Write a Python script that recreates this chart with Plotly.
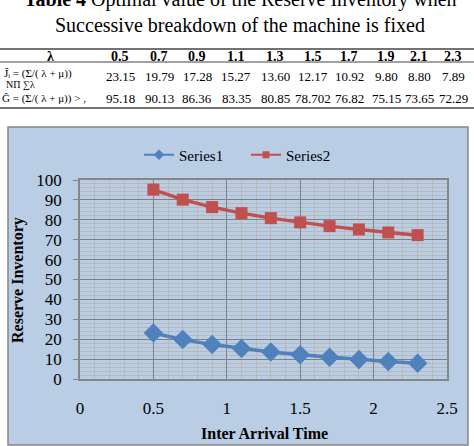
import plotly.graph_objects as go

# ---------------- data ----------------
inter_arrival = [0.5, 0.7, 0.9, 1.1, 1.3, 1.5, 1.7, 1.9, 2.1, 2.3]
series1_text = ["23.15", "19.79", "17.28", "15.27", "13.60", "12.17", "10.92", "9.80", "8.80", "7.89"]
series2_text = ["95.18", "90.13", "86.36", "83.35", "80.85", "78.702", "76.82", "75.15", "73.65", "72.29"]
series1 = [float(v) for v in series1_text]
series2 = [float(v) for v in series2_text]
header_text = ["0.5", "0.7", "0.9", "1.1", "1.3", "1.5", "1.7", "1.9", "2.1", "2.3"]
row_label_1a = "J\u0302\u1d62 = (\u03a3/( \u03bb + \u03bc))"
row_label_1b = "\u039d\u041f \u2211\u03bb"
row_label_2 = "G\u0302 = (\u03a3/( \u03bb + \u03bc)) > ,"

W, H = 474, 446
def px(x): return x / W
def py(y): return 1 - y / H

SERIF = "Liberation Serif"
BLUE, RED = "#4f81bd", "#c0504d"

fig = go.Figure()
fig.add_trace(go.Scatter(x=inter_arrival, y=series1, name="Series1", mode="lines+markers", showlegend=False,
                         line=dict(color=BLUE, width=3.5),
                         marker=dict(symbol="diamond", size=15, color=BLUE)))
fig.add_trace(go.Scatter(x=inter_arrival, y=series2, name="Series2", mode="lines+markers", showlegend=False,
                         line=dict(color=RED, width=3.5),
                         marker=dict(symbol="square", size=12, color=RED)))
# legend entries (smaller symbols, as in the reference legend)
fig.add_trace(go.Scatter(x=[None], y=[None], name="Series1", mode="lines+markers",
                         line=dict(color=BLUE, width=2), marker=dict(symbol="diamond", size=8, color=BLUE)))
fig.add_trace(go.Scatter(x=[None], y=[None], name="Series2", mode="lines+markers",
                         line=dict(color=RED, width=2), marker=dict(symbol="square", size=7, color=RED)))

shapes = []
shapes.append(dict(type="rect", xref="paper", yref="paper", x0=px(8), x1=px(468), y0=py(445), y1=py(127),
                   fillcolor="#b9cde5", line=dict(color="#868686", width=1.5), layer="below"))
for yy, w in [(49, 1.5), (62, 1), (108, 1.5)]:
    shapes.append(dict(type="line", xref="paper", yref="paper", x0=0, x1=1, y0=py(yy), y1=py(yy),
                       line=dict(color="#444444", width=w)))

def ann(text, x, y, size, xanchor="center", **kw):
    d = dict(text=text, x=px(x), y=py(y), xref="paper", yref="paper", showarrow=False,
             xanchor=xanchor, yanchor="middle",
             font=dict(family=SERIF, size=size, color="black"))
    d.update(kw)
    return d

annotations = []
annotations.append(ann("<b>Table 4</b> Optimal value of the Reserve Inventory when", 240, -1, 20))
annotations.append(ann("Successive breakdown of the machine is fixed", 240, 25, 20))
col_x = [120, 159, 197, 236, 275, 313, 349, 386, 419, 453]
annotations.append(ann("<b>\u03bb</b>", 50, 56, 14))
annotations.append(ann(row_label_1a, 2, 73, 11, xanchor="left"))
annotations.append(ann(row_label_1b, 4, 84, 10, xanchor="left"))
annotations.append(ann(row_label_2, 0, 99, 11, xanchor="left"))
for cx, h, a, b in zip(col_x, header_text, series1_text, series2_text):
    annotations.append(ann("<b>" + h + "</b>", cx, 56, 14))
    annotations.append(ann(a, cx, 77, 13))
    annotations.append(ann(b, cx, 99, 13))
annotations.append(ann("<b>Reserve Inventory</b>", 18, 280, 16, textangle=-90))
annotations.append(ann("<b>Inter Arrival Time</b>", 264, 433, 16))

fig.update_layout(
    template="none",
    width=W, height=H, margin=dict(l=0, r=0, t=0, b=0, pad=0, autoexpand=False),
    paper_bgcolor="white", plot_bgcolor="white",
    shapes=shapes, annotations=annotations,
    showlegend=True,
    legend=dict(orientation="h", x=px(139), y=py(155), xanchor="left", yanchor="middle",
                bgcolor="rgba(0,0,0,0)", font=dict(family=SERIF, size=15, color="black"),
                entrywidth=62, entrywidthmode="pixels", tracegroupgap=0),
    xaxis=dict(domain=[px(80), px(447)], range=[0, 2.5], dtick=0.5, tick0=0, automargin=False,
               showline=True, linecolor="#868686", mirror=True, linewidth=1.5,
               showgrid=True, gridcolor="#808080", gridwidth=1, zeroline=False,
               ticks="", ticklabelstandoff=13,
               tickfont=dict(family=SERIF, size=17, color="black"),
               minor=dict(dtick=0.1, showgrid=True, gridcolor="#b8b8b8", gridwidth=1)),
    yaxis=dict(domain=[py(379), py(180)], range=[0, 100], dtick=10, tick0=0, automargin=False,
               showline=True, linecolor="#868686", mirror=True, linewidth=1.5,
               showgrid=True, gridcolor="#808080", gridwidth=1, zeroline=False,
               ticks="outside", ticklen=5, tickcolor="#868686", ticklabelstandoff=8,
               tickfont=dict(family=SERIF, size=17, color="black"),
               minor=dict(dtick=2, showgrid=True, gridcolor="#b8b8b8", gridwidth=1)),
)

fig.write_html("out.html")
